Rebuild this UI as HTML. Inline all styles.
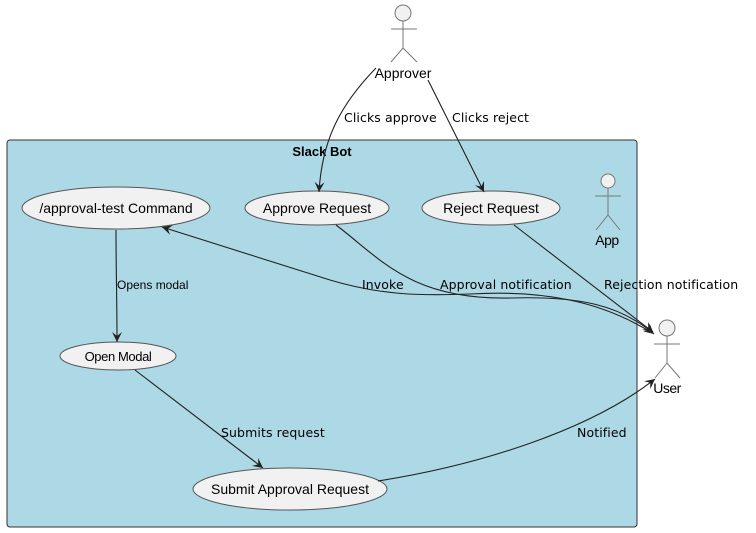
<!DOCTYPE html>
<html><head><meta charset="utf-8"><style>
html,body{margin:0;padding:0;background:#fff;}
svg{display:block;}
text{font-family:"Liberation Sans","DejaVu Sans",sans-serif;fill:#000;}
.lbl{font-family:"DejaVu Sans","Liberation Sans",sans-serif;font-size:12.5px;letter-spacing:0.1px;}
.e{fill:#f1f1f1;stroke:#555;stroke-width:1;}
.a{fill:#f1f1f1;stroke:#777;stroke-width:1;}
.s{fill:none;stroke:#777;stroke-width:1;}
.l{fill:none;stroke:#222;stroke-width:1.1;}
</style></head><body>
<svg width="756" height="533" viewBox="0 0 756 533" xmlns="http://www.w3.org/2000/svg">
<defs><marker id="ar" markerWidth="12" markerHeight="12" refX="10" refY="5" orient="auto" markerUnits="userSpaceOnUse"><path d="M0,0 L10,5 L0,10 L4,5 Z" fill="#222"/></marker></defs>
<rect x="7" y="140" width="630" height="387" rx="3" fill="#add8e6" stroke="#333" stroke-width="1"/>
<text x="322" y="156" font-size="13" font-weight="bold" text-anchor="middle">Slack Bot</text>

<!-- Approver -->
<circle class="a" cx="403" cy="13" r="8"/>
<path class="s" d="M403,21 V48 M391,29 H417 M391,62 L403,48 L417,62"/>
<text x="403" y="78" font-size="14" text-anchor="middle">Approver</text>
<!-- App -->
<circle class="a" cx="608" cy="181" r="7"/>
<path class="s" d="M608,188 V215 M595,196 H621 M596,230 L608,215 L620,230"/>
<text x="607" y="245" font-size="14" text-anchor="middle" letter-spacing="-0.5">App</text>
<!-- User -->
<circle class="a" cx="667" cy="328" r="8"/>
<path class="s" d="M667,336 V363 M654,344 H680 M655,378 L667,363 L680,378"/>
<text x="667" y="393" font-size="14" text-anchor="middle" letter-spacing="-0.5">User</text>

<!-- ellipses -->
<ellipse class="e" cx="116" cy="208" rx="94" ry="21"/>
<text x="116" y="213" font-size="14" text-anchor="middle">/approval-test Command</text>
<ellipse class="e" cx="317" cy="208" rx="72" ry="17"/>
<text x="317" y="213" font-size="14" text-anchor="middle">Approve Request</text>
<ellipse class="e" cx="491" cy="208" rx="69" ry="17"/>
<text x="491" y="213" font-size="14" text-anchor="middle">Reject Request</text>
<ellipse class="e" cx="118" cy="356" rx="58" ry="14"/>
<text x="118" y="361" font-size="13" text-anchor="middle" letter-spacing="-0.4">Open Modal</text>
<ellipse class="e" cx="290" cy="489" rx="97" ry="21"/>
<text x="290" y="494" font-size="14" text-anchor="middle">Submit Approval Request</text>

<!-- edges -->
<path class="l" d="M376,68 C340,105 322,140 319,192" marker-end="url(#ar)"/>
<text class="lbl" x="344" y="122">Clicks approve</text>
<path class="l" d="M428,80 L484,192" marker-end="url(#ar)"/>
<text class="lbl" x="452" y="122">Clicks reject</text>
<path class="l" d="M116,230 C116,270 117,300 117,342" marker-end="url(#ar)"/>
<text x="117" y="289" font-size="12">Opens modal</text>
<path class="l" d="M135,370 L263,468" marker-end="url(#ar)"/>
<text class="lbl" x="221" y="437">Submits request</text>
<path class="l" d="M378,481 C480,465 590,430 655,379" marker-end="url(#ar)"/>
<text class="lbl" x="577" y="437">Notified</text>
<path class="l" d="M652,333 C600,300 540,290 470,294 C420,296 380,295 330,280 L162,227" marker-end="url(#ar)"/>
<text class="lbl" x="362" y="289">Invoke</text>
<path class="l" d="M336,225 C380,258 410,300 510,298 C580,296 620,305 654,334" marker-end="url(#ar)"/>
<text class="lbl" x="440" y="289">Approval notification</text>
<path class="l" d="M514,225 L653,332" marker-end="url(#ar)"/>
<text class="lbl" x="604" y="289">Rejection notification</text>
</svg>
</body></html>
